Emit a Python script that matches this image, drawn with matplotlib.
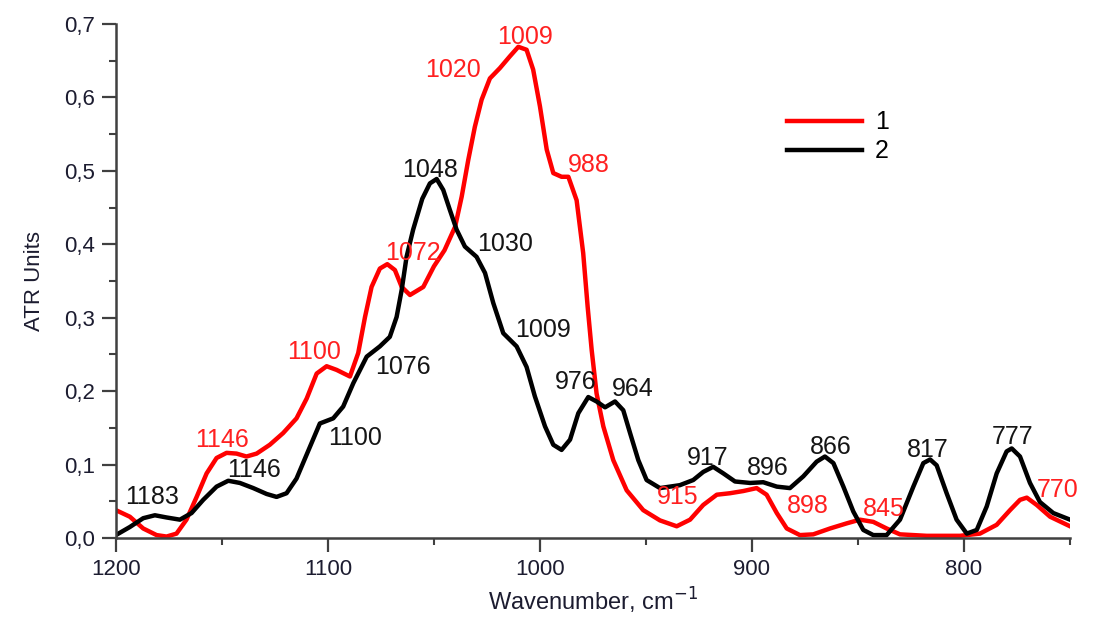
#ATR spectra of samples 1 and 2 with labelled band positions
import matplotlib.pyplot as plt
from matplotlib.ticker import MultipleLocator, FuncFormatter

plt.rcParams['font.family'] = ['Liberation Sans', 'DejaVu Sans']
plt.rcParams['xtick.labelsize'] = 16
plt.rcParams['ytick.labelsize'] = 16

# spectrum 1 (red)
wn1 = [1200, 1193.4, 1187.1, 1180.8, 1176.1, 1171.4, 1166.7, 1161.9, 1157.2, 1152.5,
       1147.8, 1143.1, 1138.4, 1133.6, 1127.4, 1121.1, 1114.8, 1110, 1105.3, 1100.6,
       1095.9, 1089.6, 1085.7, 1082.5, 1079.4, 1075.5, 1072, 1068.4, 1065.2, 1061.3,
       1055, 1050, 1045, 1040, 1036.9, 1033.8, 1030.7, 1027.5, 1023.6, 1018.9,
       1014.2, 1010.2, 1006.3, 1003.2, 1000, 996.8, 993.7, 989.8, 986.6, 982.7,
       979.6, 977.5, 975.6, 973.3, 970.1, 965.4, 959.1, 951.3, 943.4, 935.5,
       929.2, 923, 916.6, 910.4, 904.1, 897.8, 893.1, 888.3, 883.6, 877.4,
       871.1, 863.2, 855.3, 849.1, 842.8, 836.5, 830.2, 817.6, 801.9, 792.5,
       784.6, 778.3, 773.6, 770.4, 765.7, 759.4, 750]
a1 = [0.038, 0.029, 0.013, 0.004, 0.002, 0.006, 0.025, 0.056, 0.088, 0.109,
      0.116, 0.115, 0.111, 0.115, 0.127, 0.143, 0.163, 0.190, 0.224, 0.234,
      0.229, 0.220, 0.252, 0.301, 0.342, 0.367, 0.373, 0.365, 0.342, 0.331,
      0.342, 0.370, 0.392, 0.424, 0.465, 0.515, 0.560, 0.597, 0.626, 0.640,
      0.656, 0.669, 0.665, 0.638, 0.588, 0.529, 0.497, 0.492, 0.492, 0.460,
      0.388, 0.315, 0.256, 0.197, 0.152, 0.106, 0.065, 0.038, 0.024, 0.016,
      0.025, 0.045, 0.059, 0.061, 0.064, 0.068, 0.059, 0.034, 0.013, 0.004,
      0.005, 0.013, 0.020, 0.025, 0.022, 0.013, 0.005, 0.003, 0.003, 0.006,
      0.018, 0.038, 0.052, 0.055, 0.045, 0.029, 0.016]

# spectrum 2 (black)
wn2 = [1200, 1193.4, 1187.1, 1181.6, 1176.1, 1169.8, 1164.3, 1158.8, 1152.5, 1147,
       1141.5, 1135.2, 1128.9, 1124.2, 1119.5, 1114.8, 1108.5, 1103.8, 1097.5, 1092.8,
       1088, 1081.7, 1075.5, 1070.8, 1067.6, 1065.2, 1062.9, 1059.8, 1055.5, 1051.9,
       1048.7, 1045.6, 1042.5, 1039.3, 1035.4, 1029.9, 1025.9, 1022, 1017.3, 1011,
       1006.3, 1002.4, 997.6, 993.7, 989.8, 985.8, 981.9, 977.2, 973.3, 969.3,
       964.6, 960.7, 957.5, 953.6, 949.7, 943.4, 934, 927.7, 923, 918.3,
       913.5, 908, 900.9, 894.7, 888.3, 882.1, 875.8, 869.5, 865.6, 861.6,
       856.9, 852.2, 847.5, 842.8, 836.5, 830.2, 823.9, 819.2, 816, 812.9,
       808.2, 803.5, 798.7, 794, 789.3, 784.6, 779.9, 777.5, 773.6, 768.9,
       764.2, 757.9, 750]
a2 = [0.004, 0.015, 0.027, 0.031, 0.028, 0.025, 0.034, 0.052, 0.070, 0.078,
      0.075, 0.068, 0.060, 0.056, 0.061, 0.081, 0.124, 0.156, 0.163, 0.179,
      0.211, 0.247, 0.261, 0.274, 0.301, 0.338, 0.383, 0.420, 0.462, 0.483,
      0.489, 0.474, 0.447, 0.420, 0.397, 0.383, 0.361, 0.320, 0.279, 0.261,
      0.233, 0.193, 0.152, 0.127, 0.120, 0.134, 0.170, 0.192, 0.186, 0.178,
      0.186, 0.174, 0.143, 0.106, 0.079, 0.068, 0.072, 0.079, 0.090, 0.097,
      0.088, 0.077, 0.075, 0.076, 0.070, 0.068, 0.084, 0.104, 0.111, 0.102,
      0.070, 0.036, 0.011, 0.004, 0.004, 0.025, 0.070, 0.102, 0.107, 0.099,
      0.061, 0.025, 0.006, 0.011, 0.043, 0.088, 0.118, 0.122, 0.111, 0.075,
      0.049, 0.034, 0.025]

# band labels and where their text sits
peaks1 = [1146, 1100, 1072, 1020, 1009, 988, 915, 898, 845, 770]
pos1 = [(1150, 0.134), (1106.5, 0.253), (1060, 0.388), (1041, 0.638), (1007, 0.683),
        (977, 0.508), (935, 0.056), (873.5, 0.044), (838, 0.040), (756, 0.065)]
peaks2 = [1183, 1146, 1100, 1076, 1048, 1030, 1009, 976, 964, 917, 896, 866, 817, 777]
pos2 = [(1183, 0.056), (1135, 0.093), (1087, 0.136), (1064.5, 0.233), (1052, 0.501),
        (1016.5, 0.400), (998.5, 0.283), (983, 0.213), (956, 0.203), (921, 0.109),
        (892.5, 0.095), (863, 0.124), (817, 0.120), (777, 0.138)]

fig = plt.figure(figsize=(10.93, 6.17), dpi=100)
ax = fig.add_axes([0.106, 0.128, 0.873, 0.833])

ax.plot(wn1, a1, color='#ff0000', linewidth=3.2, label='1', solid_joinstyle='round')
ax.plot(wn2, a2, color='black', linewidth=3.2, label='2', solid_joinstyle='round')

for p, (tx, ty) in zip(peaks1, pos1):
    ax.text(tx, ty, str(p), color='#ff2020', fontsize=18, ha='center', va='center')
for p, (tx, ty) in zip(peaks2, pos2):
    ax.text(tx, ty, str(p), color='#151515', fontsize=18, ha='center', va='center')

ax.set_xlim(1200, 750)
ax.set_ylim(0, 0.7)
ax.xaxis.set_major_locator(MultipleLocator(100))
ax.xaxis.set_minor_locator(MultipleLocator(50))
ax.yaxis.set_major_locator(MultipleLocator(0.1))
ax.yaxis.set_minor_locator(MultipleLocator(0.05))
ax.yaxis.set_major_formatter(FuncFormatter(lambda v, _: f'{v:.1f}'.replace('.', ',')))

for side in ['top', 'right']:
    ax.spines[side].set_visible(False)
for side in ['left', 'bottom']:
    ax.spines[side].set_linewidth(1.8)
    ax.spines[side].set_color('#404040')
ax.tick_params(which='major', direction='out', length=10, width=1.6, color='#404040',
               labelsize=16, labelcolor='#1c1c30', pad=5)
ax.tick_params(which='minor', direction='out', length=5, width=1.5, color='#404040')

ax.set_xlabel('Wavenumber, cm$^{-1}$', fontsize=17, color='#1c1c30', labelpad=4)
ax.set_ylabel('ATR Units', fontsize=16, color='#1c1c30', labelpad=14)

ax.legend(loc='upper left', bbox_to_anchor=(0.68, 0.876), frameon=False,
          fontsize=18, handlelength=3.0, handletextpad=0.5, labelspacing=0.2)

plt.savefig('out.png', dpi=100)
